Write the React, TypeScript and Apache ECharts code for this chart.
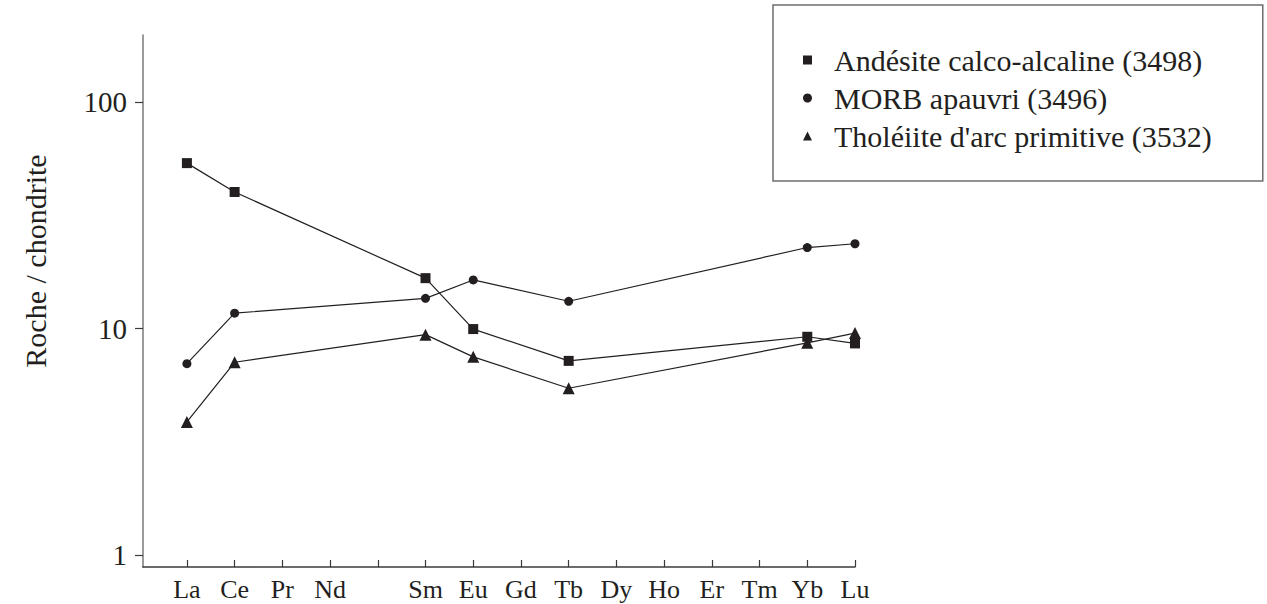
import React, { useEffect, useRef } from "react";
import * as echarts from "echarts";

const categories = ["La", "Ce", "Pr", "Nd", "", "Sm", "Eu", "Gd", "Tb", "Dy", "Ho", "Er", "Tm", "Yb", "Lu"];
const pointIndex = [0, 1, 5, 6, 8, 13, 14];
const andesite = [53.8, 40.1, 16.7, 9.95, 7.2, 9.2, 8.6];
const morb = [7.0, 11.7, 13.6, 16.4, 13.2, 22.8, 23.7];
const tholeiite = [3.87, 7.1, 9.4, 7.5, 5.45, 8.65, 9.55];
const yTicks = [1, 10, 100];
const seriesNames = [
  "Andésite calco-alcaline (3498)",
  "MORB apauvri (3496)",
  "Tholéiite d'arc primitive (3532)",
];
const yName = "Roche / chondrite";

const FONT = "Liberation Serif";
const INK = "#231f20";

export default function App() {
  const ref = useRef<HTMLDivElement>(null);
  useEffect(() => {
    if (!ref.current) return;
    const chart = echarts.init(ref.current, null, { renderer: "svg" });
    const mk = (vals: number[]) => vals.map((v, i) => [pointIndex[i], v]);
    const symbols = ["rect", "circle", "triangle"];
    const sizes = [10, 9, 12];
    const datas = [andesite, morb, tholeiite];
    chart.setOption({
      animation: false,
      textStyle: { fontFamily: FONT },
      grid: { left: 143, right: 412, top: 35, bottom: 37, containLabel: false },
      xAxis: {
        type: "value",
        min: -0.92,
        max: 14,
        splitLine: { show: false },
        axisLine: { show: true, onZero: false, lineStyle: { color: "#3a3a3a", width: 1.5 } },
        axisTick: {
          show: true,
          inside: true,
          length: 7,
          customValues: categories.map((_, i) => i),
          lineStyle: { color: "#3a3a3a", width: 1.2 },
        },
        axisLabel: {
          customValues: categories.map((_, i) => i),
          formatter: (v: number) => categories[Math.round(v)] ?? "",
          fontFamily: FONT,
          fontSize: 26,
          color: INK,
          margin: 9,
        },
      },
      yAxis: {
        type: "log",
        logBase: 10,
        min: 0.885,
        max: 198,
        splitLine: { show: false },
        axisLine: { show: true, onZero: false, lineStyle: { color: "#7a7a7a", width: 1.5 } },
        axisTick: {
          show: true,
          inside: false,
          length: 8,
          customValues: yTicks,
          lineStyle: { color: "#3a3a3a", width: 1.2 },
        },
        axisLabel: {
          customValues: yTicks,
          formatter: (v: number) => String(Math.round(v)),
          fontFamily: FONT,
          fontSize: 29,
          color: INK,
          margin: 16,
        },
      },
      legend: {
        left: 773,
        top: 5,
        orient: "vertical",
        padding: [40, 51, 30, 30],
        itemGap: 8,
        itemWidth: 9,
        itemHeight: 9,
        borderColor: "#6d6e71",
        borderWidth: 1.5,
        textStyle: { fontFamily: FONT, fontSize: 30, color: INK, lineHeight: 30, padding: [0, 0, 0, 17] },
        data: seriesNames.map((n, i) => ({ name: n, icon: symbols[i] })),
        selectedMode: false,
      },
      graphic: [
        {
          type: "text",
          x: 35,
          y: 261,
          rotation: Math.PI / 2,
          style: {
            text: yName,
            fontFamily: FONT,
            fontSize: 30,
            fill: INK,
            textAlign: "center",
            textVerticalAlign: "middle",
          },
        },
      ],
      series: seriesNames.map((n, i) => ({
        name: n,
        type: "line",
        data: mk(datas[i]),
        symbol: symbols[i],
        symbolSize: sizes[i],
        showAllSymbol: true,
        lineStyle: { color: INK, width: 1.2 },
        itemStyle: { color: INK },
        emphasis: { disabled: true },
      })),
    });
    return () => chart.dispose();
  }, []);
  return <div ref={ref} style={{ width: 1267, height: 604, position: "absolute", left: 0, top: 0 }} />;
}
